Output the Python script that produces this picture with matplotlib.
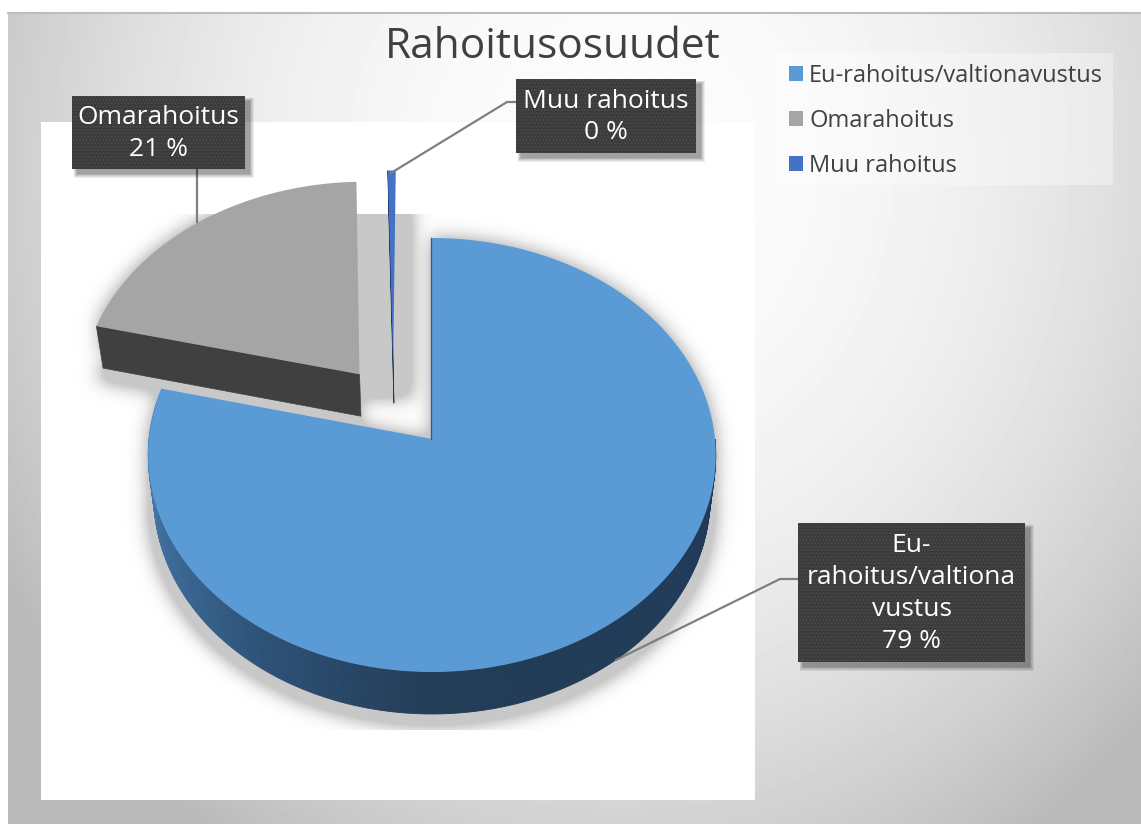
import numpy as np
import matplotlib
matplotlib.use('Agg')
import matplotlib.pyplot as plt
from matplotlib.patches import Polygon, Rectangle
from matplotlib.path import Path

title = 'Rahoitusosuudet'
categories = ['Eu-rahoitus/valtionavustus', 'Omarahoitus', 'Muu rahoitus']
box_names = ['Eu-\nrahoitus/valtiona\nvustus', 'Omarahoitus', 'Muu rahoitus']
shares = [78.8, 20.7, 0.49]
colors = ['#5b9bd5', '#a5a5a5', '#4472c4']

W, H = 1141, 824
plt.rcParams['font.family'] = ['Open Sans', 'DejaVu Sans']

# pie geometry in image pixels
cx, cy = 432.0, 439.0
rx, ry = 283.0, 215.8
persp = 0.0737
depth = 42.0
offsets = [(0.0, 0.0), (-0.262, 0.307), (-0.141, 0.37)]

fig = plt.figure(figsize=(W / 100, H / 100), dpi=100)
ax = fig.add_axes([0, 0, 1, 1])
ax.set_xlim(0, W)
ax.set_ylim(H, 0)
ax.axis('off')


def project(theta, r, off):
    u = off[0] + r * np.sin(theta)
    v = off[1] + r * np.cos(theta)
    w = 1 + persp * v
    return cx + rx * u / w, cy - ry * v / w


def lower(x, y):
    return cx + (x - cx) * 0.98, y + depth


def blur(a, sigma):
    n = int(3 * sigma)
    k = np.exp(-0.5 * (np.arange(-n, n + 1) / sigma) ** 2)
    k = k / k.sum()
    a = np.apply_along_axis(lambda m: np.convolve(m, k, mode='same'), 0, a)
    return np.apply_along_axis(lambda m: np.convolve(m, k, mode='same'), 1, a)


# background
yy, xx = np.mgrid[0:H, 0:W]
r = np.sqrt(((xx - 620) / 620.0) ** 2 + ((yy - 170) / 700.0) ** 2)
grey = 252 - 66 * np.clip(r / 1.15, 0, 1) ** 2.2
ax.imshow(grey, cmap='gray', vmin=0, vmax=255, extent=(0, W, H, 0), zorder=0, aspect='auto')
ax.add_patch(Rectangle((0, 0), 8, H, fc='white', ec='none', zorder=1))
ax.add_patch(Rectangle((0, 0), W, 12, fc='white', ec='none', zorder=1))
ax.plot([8, W], [12.5, 12.5], color='#bdbdbd', lw=1.5, zorder=1)
ax.add_patch(Rectangle((41, 122), 714, 678, fc='white', ec='none', zorder=1))

# angles of the slices, clockwise from the top
edges = np.radians(np.concatenate([[0], np.cumsum(shares)]) / sum(shares) * 360)

tops = []
for i in range(3):
    t = np.linspace(edges[i], edges[i + 1], 200)
    x, y = project(t, 1.0, offsets[i])
    ax0, ay0 = project(0.0, 0.0, offsets[i])
    tops.append((np.r_[ax0, x], np.r_[ay0, y]))

# soft shadow behind the pie
grid = np.c_[xx.ravel() + 0.5, yy.ravel() + 0.5]
mask = np.zeros((H, W))
for i, (x, y) in enumerate(tops):
    for dy in (0, depth / 2, depth + 12):
        m = Path(np.c_[x, y + dy]).contains_points(grid).reshape(H, W)
        mask = np.maximum(mask, m)
gap = (xx > 357) & (xx < 412) & (yy > 200) & (yy < 398)
mask = np.maximum(mask, gap)
sh = np.clip(blur(mask.astype(float), 9.0) * 1.9, 0, 1)
sh[(yy < 214) | (yy > 729) | (xx < 60) | (xx > 752)] = 0
rgba = np.zeros((H, W, 4))
rgba[..., :3] = 200 / 255.0
rgba[..., 3] = sh
ax.imshow(rgba, extent=(0, W, H, 0), zorder=2, aspect='auto')
ax.set_xlim(0, W)
ax.set_ylim(H, 0)

# main slice: rim with shading, then the top face
rim_deg = [90, 180, 210, 250, 284]
rim_r = [31, 35, 44, 63, 77]
rim_g = [58, 61, 79, 111, 134]
rim_b = [90, 87, 115, 157, 187]
t = np.radians(np.linspace(90, np.degrees(edges[1]), 260))
x, y = project(t, 1.0, offsets[0])
xb, yb = lower(x, y)
for j in range(len(t) - 1):
    d = np.degrees(t[j])
    c = (np.interp(d, rim_deg, rim_r) / 255, np.interp(d, rim_deg, rim_g) / 255, np.interp(d, rim_deg, rim_b) / 255)
    ax.add_patch(Polygon([(x[j], y[j]), (x[j + 1], y[j + 1]), (xb[j + 1], yb[j + 1]), (xb[j], yb[j])],
                         fc=c, ec=c, lw=0.6, zorder=3))
ax.add_patch(Polygon(np.c_[tops[0]], fc=colors[0], ec='none', zorder=4))
ax0, ay0 = project(0.0, 0.0, offsets[0])
xt, yt = project(0.0, 1.0, offsets[0])
ax.plot([xt - 1, ax0 - 1], [yt, ay0], color='#2f5f8f', lw=1.0, zorder=4)

# exploded slices with the cut face that looks at the viewer
face_colors = {1: '#404040', 2: '#1c3763'}
for i in (1, 2):
    x, y = tops[i]
    xo, yo = x[1], y[1]
    xa, ya = x[0], y[0]
    xo2, yo2 = lower(xo, yo)
    xa2, ya2 = lower(xa, ya)
    ax.add_patch(Polygon([(xo, yo), (xa, ya), (xa2, ya2), (xo2, yo2)],
                         fc=face_colors[i], ec=face_colors[i], lw=0.5, zorder=5))
    ax.add_patch(Polygon(np.c_[x, y], fc=colors[i], ec='none', zorder=6))

# leader lines
leader_x = [[798, 780, 616], [197, 197], [516, 507, 391]]
leader_y = [[579, 579, 660], [169, 222], [102, 102, 173]]
for lx, ly in zip(leader_x, leader_y):
    ax.plot(lx, ly, color='#7f7f7f', lw=1.6, zorder=7, solid_joinstyle='miter')

# data label boxes
box_x = [798, 72, 516]
box_y = [523, 96, 79]
box_w = [227, 173, 180]
box_h = [139, 73, 74]
for i in range(3):
    for g in range(6):
        ax.add_patch(Rectangle((box_x[i] + 5 - g * 0.7, box_y[i] + 5 - g * 0.7), box_w[i] + g * 1.4, box_h[i] + g * 1.4,
                               fc='black', ec='none', alpha=0.07, zorder=8))
    ax.add_patch(Rectangle((box_x[i], box_y[i]), box_w[i], box_h[i], fc='#3a3a3a', ec='none', zorder=9))
    ax.add_patch(Rectangle((box_x[i], box_y[i]), box_w[i], box_h[i], fc='none', ec='#4c4c4c', hatch='.....', lw=0, zorder=9))
    ax.text(box_x[i] + box_w[i] / 2, box_y[i] + box_h[i] / 2 + 1,
            '%s\n%.0f %%' % (box_names[i], shares[i]),
            color='white', fontsize=19, ha='center', va='center', linespacing=1.36, zorder=10)

ax.text(553, 47, title, color='#404040', fontsize=30.5, ha='center', va='center', zorder=10)

# legend
ax.add_patch(Rectangle((775, 53), 338, 132, fc='white', ec='none', alpha=0.35, zorder=9))
handles = [Rectangle((0, 0), 1, 1, fc=c, ec='none') for c in colors]
leg = ax.legend(handles, categories, loc='upper left', bbox_to_anchor=(789 / W, 1 - 64 / H),
                bbox_transform=fig.transFigure, fontsize=17, frameon=False, handlelength=0.6, handleheight=0.6,
                handletextpad=0.25, labelspacing=0.89, borderpad=0, borderaxespad=0, labelcolor='#404040')
leg.set_zorder(10)

fig.savefig('out.png', dpi=100)
